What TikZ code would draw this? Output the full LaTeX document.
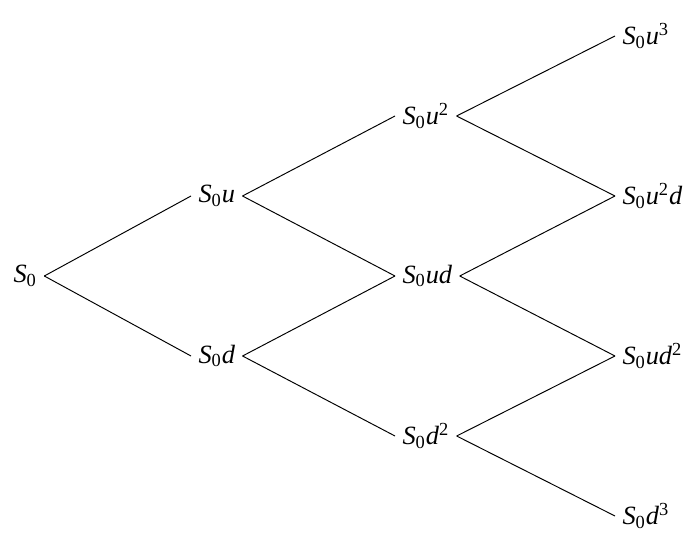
\documentclass[tikz,border=0pt]{standalone}
\usepackage{fontspec}
\setmainfont{Liberation Serif}
\usepackage{tikz}
\usetikzlibrary{arrows}

\newcommand{\Szero}{\textit{S}\textsubscript{0}}

\begin{document}
\begin{tikzpicture}[price/.style={anchor=west, inner sep=4pt, font=\fontsize{15}{18}\selectfont}, line width=0.55pt]
	\useasboundingbox (0cm,0cm) rectangle (13.7cm,-10.68cm);
	\node [price] (s0) at (0.12cm,-5.52cm) {\Szero};
	\node [price] (s0u) at (3.82cm,-3.92cm) {\Szero\textit{u}};
	\node [price] (s0d) at (3.82cm,-7.12cm) {\Szero\textit{d}};
	\node [price] (s0uu) at (7.9cm,-2.32cm) {\Szero\textit{u}\textsuperscript{2}};
	\node [price] (s0ud) at (7.9cm,-5.52cm) {\Szero\textit{ud}};
	\node [price] (s0dd) at (7.9cm,-8.72cm) {\Szero\textit{d}\textsuperscript{2}};
	\node [price] (s0uuu) at (12.3cm,-0.72cm) {\Szero\textit{u}\textsuperscript{3}};
	\node [price] (s0uud) at (12.3cm,-3.92cm) {\Szero\textit{u}\textsuperscript{2}\textit{d}};
	\node [price] (s0udd) at (12.3cm,-7.12cm) {\Szero\textit{ud}\textsuperscript{2}};
	\node [price] (s0ddd) at (12.3cm,-10.32cm) {\Szero\textit{d}\textsuperscript{3}};
	\path (s0.east) edge (s0u.west);
	\path (s0.east) edge (s0d.west);
	\path (s0u.east) edge (s0uu.west);
	\path (s0u.east) edge (s0ud.west);
	\path (s0d.east) edge (s0ud.west);
	\path (s0d.east) edge (s0dd.west);
	\path (s0uu.east) edge (s0uuu.west);
	\path (s0uu.east) edge (s0uud.west);
	\path (s0ud.east) edge (s0uud.west);
	\path (s0ud.east) edge (s0udd.west);
	\path (s0dd.east) edge (s0udd.west);
	\path (s0dd.east) edge (s0ddd.west);
\end{tikzpicture}
\end{document}
